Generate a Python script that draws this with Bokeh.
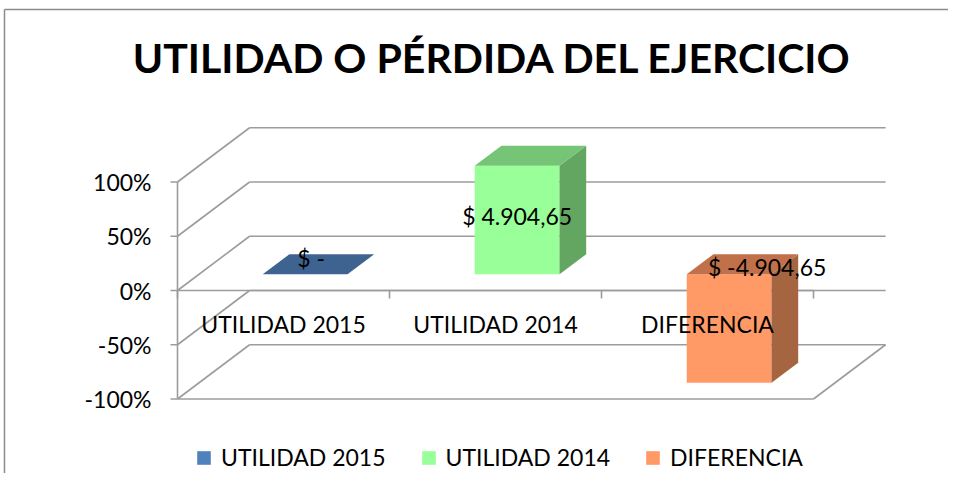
from bokeh.plotting import figure
from bokeh.models import Range1d, Label, Legend, LegendItem
from bokeh.core.properties import value
from bokeh.embed import file_html
from bokeh.resources import INLINE

# ---------------- data ----------------
categories = ["UTILIDAD 2015", "UTILIDAD 2014", "DIFERENCIA"]
values = [0.0, 1.0, -1.0]                      # share on the percent axis
value_labels = ["$ -", "$ 4.904,65", "$ -4.904,65"]
y_ticks = [-1.0, -0.5, 0.0, 0.5, 1.0]
y_tick_labels = ["-100%", "-50%", "0%", "50%", "100%"]
title_text = "UTILIDAD O PÉRDIDA DEL EJERCICIO"

# ---------------- styles ----------------
front_colors = ["#4F81BD", "#99FF99", "#FF9966"]
side_colors = ["#3A5F8C", "#63A662", "#A66541"]
top_colors = ["#3F6390", "#76C475", "#C0714A"]
grid_color = "#9C9C9C"
FONT = "Lato"

W, H = 948, 473
PX_X, PX_Y = 212.0, 108.5          # pixels per category / per 100 %
ORIGIN_X, ORIGIN_Y = 177.0, 183.0  # frame position of (0, 0) from left / bottom
DX, DY = 0.34, 0.5                 # 3-D depth vector (data units)
F0, F1 = 0.30, 0.67                # bar depth start / end (fraction of depth)
HALF_W = 0.2                       # half bar width (categories)
label_dx = [6, 0, 38]
label_dy = [-16, -4, -61]

p = figure(width=W, height=H, output_backend="svg", toolbar_location=None,
           x_axis_type=None, y_axis_type=None, min_border=0,
           x_range=Range1d(-ORIGIN_X / PX_X, (W - ORIGIN_X) / PX_X),
           y_range=Range1d(-ORIGIN_Y / PX_Y, (H - ORIGIN_Y) / PX_Y))
p.outline_line_color = None
p.grid.visible = False
p.background_fill_color = "white"
p.border_fill_color = "white"

n = len(categories)
x_end = float(n)

# chart border (top and left)
bx = p.x_range.start + 4.0 / PX_X
by = p.y_range.end - 9.0 / PX_Y
p.segment(x0=[bx, bx], y0=[by, by], x1=[p.x_range.end, bx], y1=[by, p.y_range.start],
          line_color="#8C8C8C", line_width=1.5)

# back wall gridlines and side wall diagonals
p.segment(x0=[DX] * len(y_ticks), y0=[t + DY for t in y_ticks],
          x1=[x_end + DX] * len(y_ticks), y1=[t + DY for t in y_ticks],
          line_color=grid_color, line_width=1.6)
p.segment(x0=[0.0] * len(y_ticks), y0=y_ticks,
          x1=[DX] * len(y_ticks), y1=[t + DY for t in y_ticks],
          line_color=grid_color, line_width=1.6)
ymin = min(y_ticks)
# floor front edge and right edge
p.segment(x0=[0.0, x_end], y0=[ymin, ymin], x1=[x_end, x_end + DX], y1=[ymin, ymin + DY],
          line_color=grid_color, line_width=1.6)
# value axis line and its ticks
p.segment(x0=[0.0], y0=[min(y_ticks)], x1=[0.0], y1=[max(y_ticks)],
          line_color=grid_color, line_width=1.6)
p.segment(x0=[-7.0 / PX_X] * len(y_ticks), y0=y_ticks, x1=[0.0] * len(y_ticks), y1=y_ticks,
          line_color=grid_color, line_width=1.6)
# category axis at zero with ticks
p.segment(x0=[0.0], y0=[0.0], x1=[x_end], y1=[0.0], line_color=grid_color, line_width=1.6)
p.segment(x0=list(range(n + 1)), y0=[0.0] * (n + 1), x1=list(range(n + 1)),
          y1=[-8.0 / PX_Y] * (n + 1), line_color=grid_color, line_width=1.6)

# 3-D bars
fx, fy, sx, sy, tx, ty, fc, sc, tc = [], [], [], [], [], [], [], [], []
for i, v in enumerate(values):
    xl = i + 0.5 - HALF_W
    xr = i + 0.5 + HALF_W
    top = max(v, 0.0)
    base = min(v, 0.0)
    a_x, a_y = F0 * DX, F0 * DY
    b_x, b_y = F1 * DX, F1 * DY
    fx.append([xl + a_x, xr + a_x, xr + a_x, xl + a_x])
    fy.append([base + a_y, base + a_y, top + a_y, top + a_y])
    sx.append([xr + a_x, xr + b_x, xr + b_x, xr + a_x])
    sy.append([base + a_y, base + b_y, top + b_y, top + a_y])
    tx.append([xl + a_x, xr + a_x, xr + b_x, xl + b_x])
    ty.append([top + a_y, top + a_y, top + b_y, top + b_y])
    fc.append(front_colors[i]); sc.append(side_colors[i]); tc.append(top_colors[i])

front = p.patches(xs=fx, ys=fy, fill_color=fc, line_color=None)
p.patches(xs=sx, ys=sy, fill_color=sc, line_color=None)
p.patches(xs=tx, ys=ty, fill_color=tc, line_color=None)

# value axis labels
p.text(x=[0.0] * len(y_ticks), y=y_ticks, text=y_tick_labels, x_offset=-26,
       text_align="right", text_baseline="middle", text_font=value(FONT),
       text_font_size="23px", text_color="black")

# category labels
p.text(x=[i + 0.5 for i in range(n)], y=[0.0] * n, text=categories, y_offset=33,
       text_align="center", text_baseline="middle", text_font=value(FONT),
       text_font_size="23px", text_color="black")

# data labels
p.text(x=[i + 0.5 + F0 * DX for i in range(n)], y=[v / 2 + F0 * DY for v in values],
       text=value_labels, x_offset=label_dx, y_offset=label_dy,
       text_align="center", text_baseline="middle", text_font=value(FONT),
       text_font_size="23px", text_color="black")

# title
p.add_layout(Label(x=492, y=H - 57, x_units="screen", y_units="screen", text=title_text,
                   text_align="center", text_baseline="middle", text_font=FONT,
                   text_font_style="bold", text_font_size="41px", text_color="black"))

# legend (uses the front faces of the bars, one item per category)
legend = Legend(items=[LegendItem(label=c, renderers=[front], index=i)
                       for i, c in enumerate(categories)],
                orientation="horizontal", location=(195, 2), glyph_width=17, glyph_height=17,
                label_standoff=9, spacing=34, padding=0, margin=0,
                label_text_font=FONT, label_text_font_size="23px", label_text_color="black",
                border_line_color=None, background_fill_alpha=0)
p.add_layout(legend)

open("out.html", "w").write(file_html(p, INLINE))
